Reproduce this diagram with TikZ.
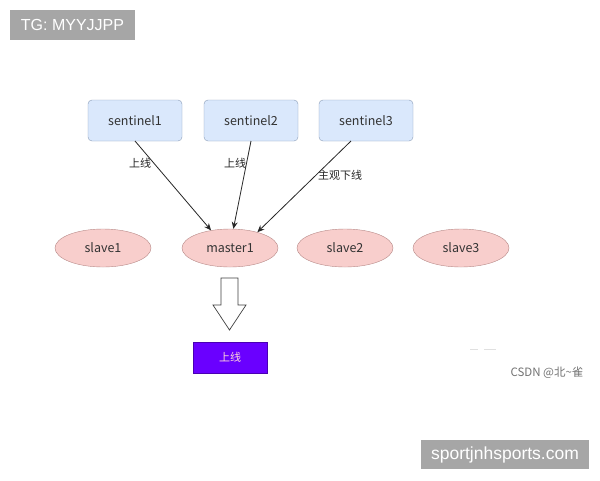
\documentclass[tikz,border=0pt]{standalone}
\usepackage{fontspec}
\setmainfont{Liberation Sans}
\newfontfamily\cjk{Noto Sans CJK SC}
\usetikzlibrary{arrows.meta,shapes.geometric}
\definecolor{sentfill}{HTML}{DAE8FC}
\definecolor{sentdraw}{HTML}{8A9CB8}
\definecolor{ellfill}{HTML}{F8CECC}
\definecolor{elldraw}{HTML}{B88A88}
\definecolor{wmgray}{HTML}{A6A6A6}
\definecolor{purp}{HTML}{6A00FF}
\tikzset{
  sentbox/.style={draw=sentdraw,fill=sentfill,rounded corners=4pt,minimum width=94pt,minimum height=41pt,inner sep=0pt,font=\cjk\fontsize{12.5}{14}\selectfont,text=black!80},
  ellnode/.style={ellipse,draw=elldraw,fill=ellfill,minimum width=96pt,minimum height=38pt,inner sep=0pt,font=\cjk\fontsize{12.5}{14}\selectfont,text=black!80},
  lbl/.style={font=\cjk\fontsize{11}{13}\selectfont,text=black!85,inner sep=1pt},
  conn/.style={draw=black!85,line width=0.8pt,-{Stealth[length=7pt,width=6pt]}},
  wm/.style={fill=wmgray,text=white,inner sep=0pt}
}
\begin{document}
\begin{tikzpicture}[x=1pt,y=-1pt]
\useasboundingbox[fill=white] (0,0) rectangle (600,480);
% watermark top
\node[wm,minimum width=125pt,minimum height=30pt,font=\fontsize{16}{18}\selectfont] (tg) at (72.5,25) {TG: MYYJJPP};
% sentinels
\node[sentbox] (s1) at (135,120.5) {sentinel1};
\node[sentbox] (s2) at (251,120.5) {sentinel2};
\node[sentbox] (s3) at (366,120.5) {sentinel3};
% ellipses
\node[ellnode] (sl1) at (103,248) {slave1};
\node[ellnode] (m1) at (230,248) {master1};
\node[ellnode] (sl2) at (345,248) {slave2};
\node[ellnode] (sl3) at (461,248) {slave3};
% connectors
\coordinate (a1) at (135,141);
\coordinate (a2) at (251,141);
\coordinate (a3) at (351,141);
\draw[conn] (a1) -- (m1.137);
\draw[conn] (a2) -- (m1.80);
\draw[conn] (a3) -- (m1.30);
\node[lbl] (l1) at (140,163) {上线};
\node[lbl] (l2) at (235,163) {上线};
\node[lbl] (l3) at (340,175) {主观下线};
% block arrow
\draw[draw=black!75,fill=white,line width=0.7pt,line join=miter]
  (221,278) -- (238,278) -- (238,305) -- (246,305) -- (229.5,330) -- (213,305) -- (221,305) -- cycle;
\node[fill=purp,draw=purp!70!black,minimum width=74pt,minimum height=31pt,inner sep=0pt,font=\cjk\fontsize{11}{13}\selectfont,text=pink!60!white] (up) at (230,357.5) {上线};
% faint marks
\draw[black!12,line width=0.8pt] (470,349) -- (478,349) (484,349) -- (496,349);
\node[font=\cjk\fontsize{11.5}{13}\selectfont,text=black!55,inner sep=0pt] (csdn) at (547,373) {CSDN @北\textasciitilde 雀};
% watermark bottom
\node[wm,minimum width=168pt,minimum height=29pt,font=\fontsize{17.5}{19}\selectfont] (site) at (505,454.5) {sportjnhsports.com};
\end{tikzpicture}
\end{document}
